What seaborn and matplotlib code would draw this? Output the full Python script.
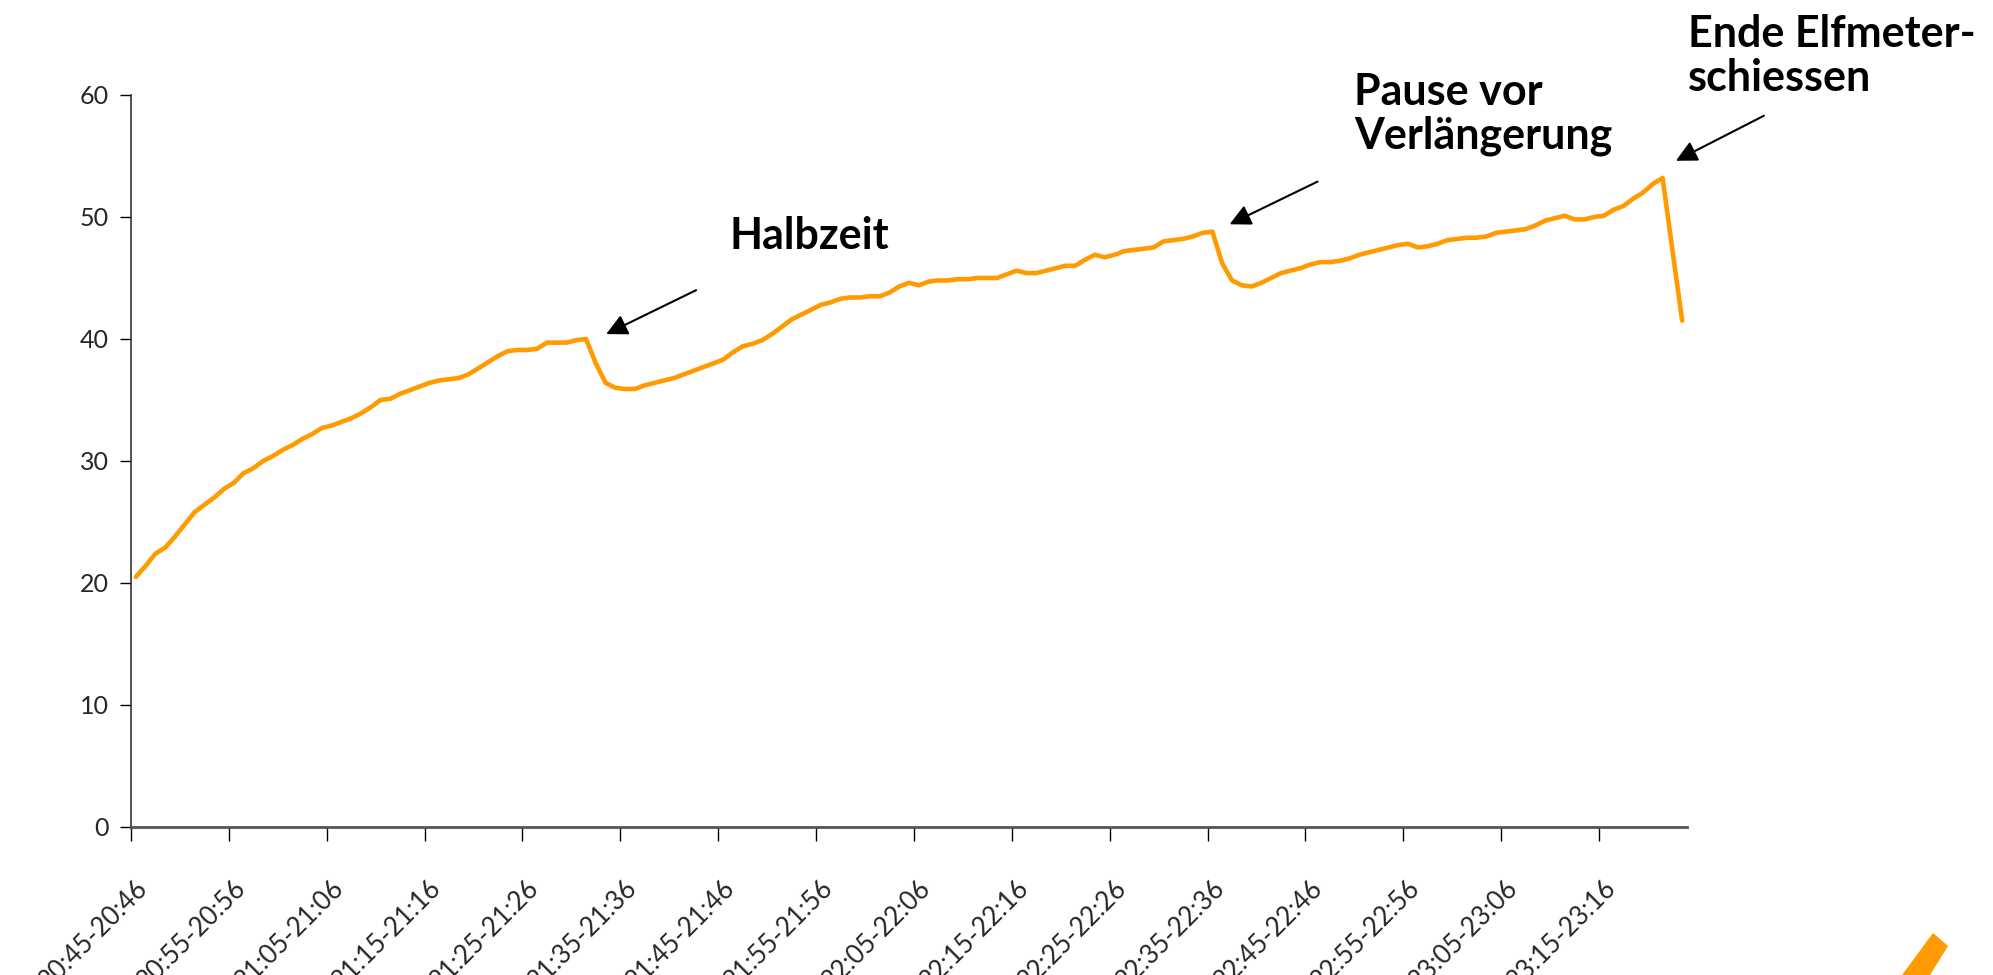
import numpy as np
import pandas as pd
import matplotlib
matplotlib.use("Agg")
import matplotlib.pyplot as plt
import matplotlib.transforms as mtransforms
from matplotlib.patches import Polygon
import seaborn as sns

# viewers per minute, 20:45 .. 23:24
values = [
    20.5, 21.4, 22.4, 22.9, 23.8, 24.8, 25.8, 26.4, 27.0, 27.7,
    28.2, 29.0, 29.4, 30.0, 30.4, 30.9, 31.3, 31.8, 32.2, 32.7,
    32.9, 33.2, 33.5, 33.9, 34.4, 35.0, 35.1, 35.5, 35.8, 36.1,
    36.4, 36.6, 36.7, 36.8, 37.1, 37.6, 38.1, 38.6, 39.0, 39.1,
    39.1, 39.2, 39.7, 39.7, 39.7, 39.9, 40.0, 38.0, 36.4, 36.0,
    35.9, 35.9, 36.2, 36.4, 36.6, 36.8, 37.1, 37.4, 37.7, 38.0,
    38.3, 38.9, 39.4, 39.6, 39.9, 40.4, 41.0, 41.6, 42.0, 42.4,
    42.8, 43.0, 43.3, 43.4, 43.4, 43.5, 43.5, 43.8, 44.3, 44.6,
    44.4, 44.7, 44.8, 44.8, 44.9, 44.9, 45.0, 45.0, 45.0, 45.3,
    45.6, 45.4, 45.4, 45.6, 45.8, 46.0, 46.0, 46.5, 46.9, 46.7,
    46.9, 47.2, 47.3, 47.4, 47.5, 48.0, 48.1, 48.2, 48.4, 48.7,
    48.8, 46.2, 44.8, 44.4, 44.3, 44.6, 45.0, 45.4, 45.6, 45.8,
    46.1, 46.3, 46.3, 46.4, 46.6, 46.9, 47.1, 47.3, 47.5, 47.7,
    47.8, 47.5, 47.6, 47.8, 48.1, 48.2, 48.3, 48.3, 48.4, 48.7,
    48.8, 48.9, 49.0, 49.3, 49.7, 49.9, 50.1, 49.8, 49.8, 50.0,
    50.1, 50.6, 50.9, 51.5, 52.0, 52.7, 53.2, 47.3, 41.5,
]

tick_labels = [
    "20:45-20:46", "20:55-20:56", "21:05-21:06", "21:15-21:16",
    "21:25-21:26", "21:35-21:36", "21:45-21:46", "21:55-21:56",
    "22:05-22:06", "22:15-22:16", "22:25-22:26", "22:35-22:36",
    "22:45-22:46", "22:55-22:56", "23:05-23:06", "23:15-23:16",
]

annotations = ["Halbzeit", "Pause vor\nVerlängerung", "Ende Elfmeter-\nschiessen"]

n = len(values)
data = pd.DataFrame({"pos": np.arange(n) + 0.5, "value": values})

sns.set_theme(style="white")
plt.rcParams["font.family"] = ["Lato", "DejaVu Sans"]

fig = plt.figure(figsize=(19.93, 9.75), dpi=100)
ax = fig.add_axes([0.0657, 0.1518, 0.7808, 0.7508])

sns.lineplot(data=data, x="pos", y="value", color="#FF9A00", linewidth=3.3, ax=ax)

ax.set_xlim(0, n)
ax.set_ylim(0, 60)
ax.set_yticks(range(0, 61, 10))
ax.set_xticks(np.arange(0, n, 10))
ax.set_xlabel("")
ax.set_ylabel("")

ax.tick_params(axis="y", direction="out", length=8, width=1, color="black",
               labelsize=18, pad=8, left=True)
ax.tick_params(axis="x", direction="out", length=10, width=1, color="black",
               pad=31, bottom=True)

ax.set_xticklabels(tick_labels, rotation=45, ha="right", va="center",
                   rotation_mode="anchor", fontsize=18.5)
offset = mtransforms.ScaledTranslation(0.13, 0, fig.dpi_scale_trans)
for lab in ax.get_xticklabels():
    lab.set_transform(lab.get_transform() + offset)

for side in ["top", "right"]:
    ax.spines[side].set_visible(False)
ax.spines["left"].set_color("#333333")
ax.spines["left"].set_linewidth(1.2)
ax.spines["bottom"].set_color("#555555")
ax.spines["bottom"].set_linewidth(2)
ax.grid(False)

font_ann = dict(fontsize=31, fontweight="bold", color="black", linespacing=1.1)
arrow = dict(arrowstyle="-|>", color="black", lw=1.5, mutation_scale=32)

ax.text(61.2, 48.4, annotations[0], ha="left", va="center", **font_ann)
ax.annotate("", xy=(48.3, 40.3), xytext=(58.0, 44.1), arrowprops=arrow,
            annotation_clip=False)

ax.text(125.0, 61.9, annotations[1], ha="left", va="top", clip_on=False, **font_ann)
ax.annotate("", xy=(112.0, 49.3), xytext=(121.5, 53.0), arrowprops=arrow,
            annotation_clip=False)

ax.text(159.1, 66.6, annotations[2], ha="left", va="top", clip_on=False, **font_ann)
ax.annotate("", xy=(157.6, 54.5), xytext=(167.1, 58.4), arrowprops=arrow,
            annotation_clip=False)

# logo fragment at the bottom right corner
logo = Polygon([(1902 / 1993, 0.0), (1930 / 1993, 0.0), (1948 / 1993, 29 / 975),
                (1933 / 1993, 42 / 975)], closed=True, transform=fig.transFigure,
               facecolor="#FF9A00", edgecolor="none")
fig.patches.append(logo)

fig.savefig("out.png", dpi=100)
